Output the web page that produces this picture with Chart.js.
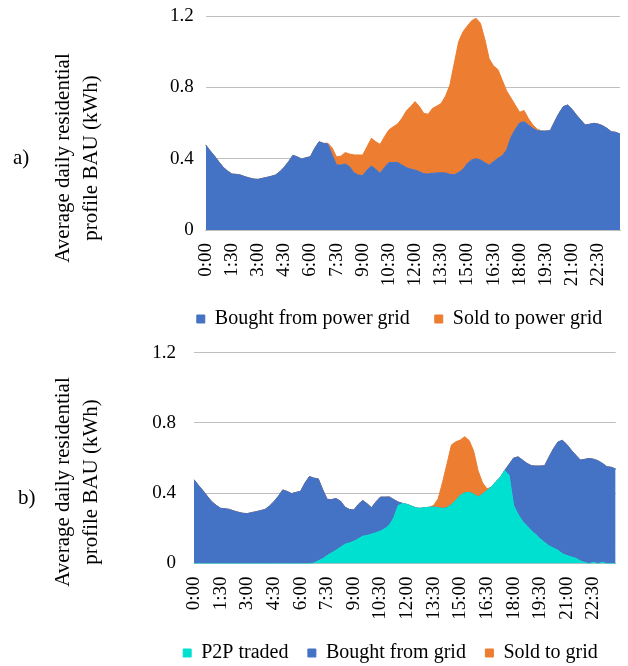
<!DOCTYPE html>
<html>
<head>
<meta charset="utf-8">
<script src="https://cdn.jsdelivr.net/npm/chart.js@4.4.1/dist/chart.umd.min.js"></script>
<style>
html,body{margin:0;padding:0;background:#fff;overflow:hidden;}
#wrap{position:relative;width:628px;height:666px;overflow:hidden;font-family:'Liberation Serif','Times New Roman',serif;color:#000;}
canvas{position:absolute;left:0;}
#cA{top:0;}
#cB{top:335px;}
.ytitle{position:absolute;width:280px;height:56px;transform:rotate(-90deg);text-align:center;font-size:21px;line-height:28px;white-space:nowrap;}
.tag{position:absolute;font-size:21px;line-height:24px;}
</style>
</head>
<body>
<div id="wrap">
  <canvas id="cA" width="628" height="347"></canvas>
  <canvas id="cB" width="628" height="341"></canvas>
  <div class="ytitle" style="left:-64px;top:130px;">Average daily residential<br>profile BAU (kWh)</div>
  <div class="ytitle" style="left:-64px;top:454px;">Average daily residential<br>profile BAU (kWh)</div>
  <div class="tag" style="left:13px;top:145px;">a)</div>
  <div class="tag" style="left:18px;top:485px;">b)</div>
</div>
<script>
const timeLabels = ['0:00','0:15','0:30','0:45','1:00','1:15','1:30','1:45','2:00','2:15','2:30','2:45',
'3:00','3:15','3:30','3:45','4:00','4:15','4:30','4:45','5:00','5:15','5:30','5:45',
'6:00','6:15','6:30','6:45','7:00','7:15','7:30','7:45','8:00','8:15','8:30','8:45',
'9:00','9:15','9:30','9:45','10:00','10:15','10:30','10:45','11:00','11:15','11:30','11:45',
'12:00','12:15','12:30','12:45','13:00','13:15','13:30','13:45','14:00','14:15','14:30','14:45',
'15:00','15:15','15:30','15:45','16:00','16:15','16:30','16:45','17:00','17:15','17:30','17:45',
'18:00','18:15','18:30','18:45','19:00','19:15','19:30','19:45','20:00','20:15','20:30','20:45',
'21:00','21:15','21:30','21:45','22:00','22:15','22:30','22:45','23:00','23:15','23:30','23:45'];
const shownTicks = ['0:00','1:30','3:00','4:30','6:00','7:30','9:00','10:30','12:00','13:30','15:00','16:30','18:00','19:30','21:00','22:30'];
const yTicks = [0, 0.4, 0.8, 1.2];

// Panel a) BAU
const boughtA = [0.477,0.445,0.415,0.383,0.352,0.331,0.314,0.312,0.308,0.299,
0.292,0.286,0.284,0.290,0.295,0.301,0.308,0.327,0.352,0.383,
0.419,0.410,0.398,0.405,0.411,0.458,0.495,0.486,0.482,0.420,
0.365,0.364,0.370,0.355,0.321,0.308,0.305,0.336,0.359,0.340,
0.318,0.351,0.378,0.378,0.379,0.364,0.350,0.342,0.336,0.327,
0.316,0.314,0.318,0.320,0.321,0.320,0.312,0.310,0.323,0.340,
0.374,0.393,0.400,0.393,0.378,0.364,0.383,0.402,0.417,0.449,
0.520,0.565,0.600,0.607,0.589,0.570,0.557,0.555,0.555,0.557,
0.607,0.654,0.692,0.701,0.677,0.645,0.617,0.589,0.593,0.598,
0.594,0.585,0.570,0.551,0.548,0.538];
const soldA = [0,0,0,0,0,0,0,0,0,0,
0,0,0,0,0,0,0,0,0,0,
0,0,0,0,0,0,0,0,0.005,0.04,
0.045,0.05,0.064,0.071,0.10,0.113,0.115,0.131,0.155,0.155,
0.162,0.172,0.183,0.201,0.215,0.262,0.317,0.35,0.384,0.365,
0.338,0.335,0.364,0.375,0.389,0.431,0.501,0.625,0.733,0.772,
0.77,0.781,0.787,0.766,0.692,0.596,0.537,0.498,0.423,0.331,
0.22,0.135,0.06,0.063,0.036,0.02,0.008,0,0,0,
0,0,0,0,0,0,0,0,0,0,
0,0,0,0,0,0];

// Panel b) P2P
const p2pB = [0,0,0,0,0,0,0,0,0,0,
0,0,0,0,0,0,0,0,0,0,
0,0,0,0,0,0,0,0.003,0.015,0.027,
0.045,0.06,0.075,0.092,0.11,0.117,0.126,0.14,0.155,0.16,
0.167,0.175,0.185,0.198,0.218,0.26,0.33,0.342,0.336,0.327,
0.316,0.314,0.318,0.320,0.321,0.318,0.313,0.318,0.335,0.36,
0.388,0.402,0.405,0.395,0.378,0.395,0.415,0.435,0.465,0.49,
0.53,0.50,0.33,0.28,0.24,0.215,0.185,0.165,0.14,0.12,
0.10,0.087,0.075,0.055,0.045,0.037,0.03,0.015,0.005,0,
0.006,0,0.006,0,0,0];
const boughtB = [0.477,0.445,0.415,0.383,0.352,0.331,0.314,0.312,0.308,0.299,
0.292,0.286,0.284,0.290,0.295,0.301,0.308,0.327,0.352,0.383,
0.419,0.410,0.398,0.405,0.411,0.458,0.495,0.483,0.467,0.393,
0.32,0.304,0.295,0.263,0.211,0.191,0.179,0.196,0.204,0.18,
0.151,0.176,0.193,0.18,0.161,0.104,0.02,0,0,0,
0,0,0,0,0,0,0,0,0,0,
0,0,0,0,0,0,0,0,0,0,
0,0.065,0.27,0.327,0.349,0.355,0.372,0.39,0.415,0.437,
0.507,0.567,0.617,0.646,0.632,0.608,0.587,0.574,0.588,0.598,
0.588,0.585,0.564,0.551,0.548,0.538];
const soldB = [0,0,0,0,0,0,0,0,0,0,
0,0,0,0,0,0,0,0,0,0,
0,0,0,0,0,0,0,0,0,0,
0,0,0,0,0,0,0,0,0,0,
0,0,0,0,0,0,0,0,0,0,
0,0,0,0,0.01,0.05,0.15,0.25,0.34,0.333,
0.315,0.32,0.295,0.245,0.15,0.065,0.01,0,0,0,
0,0,0,0,0,0,0,0,0,0,
0,0,0,0,0,0,0,0,0,0,
0,0,0,0,0,0];

const BLUE = '#4472C4', ORANGE = '#ED7D31', TEAL = '#00E0D0', GRID = '#BFBFBF';
const FONT = "'Liberation Serif', 'Times New Roman', serif";
Chart.defaults.font.family = FONT;
Chart.defaults.color = '#000';

// Places the legend block (centre and vertical position) like the reference.
const legendShift = {
  id: 'legendShift',
  afterLayout(chart, args, opts) {
    const lg = chart.legend;
    if (!lg || !opts || opts.left == null) return;
    const h = lg.bottom - lg.top;
    lg.left = opts.left; lg.right = opts.right;
    lg.top = opts.top; lg.bottom = opts.top + h;
  }
};

function area(label, data, color, fill) {
  return { label, data, backgroundColor: color, borderColor: color, borderWidth: 1,
           fill, pointRadius: 0, pointHoverRadius: 0, tension: 0 };
}

function makeChart(id, datasets, p) {
  return new Chart(document.getElementById(id), {
    type: 'line',
    data: { labels: timeLabels, datasets },
    plugins: [legendShift],
    options: {
      responsive: false, animation: false,
      layout: { padding: { left: 0, right: p.right, top: p.top, bottom: 0 } },
      plugins: {
        tooltip: { enabled: false },
        legendShift: { left: p.legLeft, right: p.legRight, top: p.legTop },
        legend: {
          position: 'bottom',
          labels: { boxWidth: 8, boxHeight: 8, padding: p.legPad, font: { size: 20, family: FONT }, color: '#000' }
        }
      },
      scales: {
        x: {
          type: 'category', offset: false,
          grid: { display: false, drawTicks: false },
          border: { display: true, color: GRID, width: 1 },
          ticks: {
            autoSkip: false, minRotation: 90, maxRotation: 90, padding: 13,
            font: { size: 19, family: FONT }, color: '#000',
            callback: function (v) { const l = this.getLabelForValue(v); return shownTicks.includes(l) ? l : ''; }
          },
          afterFit: s => { s.height = p.xh; s.paddingLeft = 0; s.paddingRight = 0; }
        },
        y: {
          stacked: true, min: 0, max: 1.2,
          afterBuildTicks: s => { s.ticks = yTicks.map(v => ({ value: v })); },
          grid: { color: GRID, lineWidth: 1, drawTicks: false },
          border: { display: false },
          ticks: { padding: p.tpad, font: { size: 19, family: FONT }, color: '#000',
                   callback: v => String(v) },
          afterFit: s => { s.width = p.yw; s.paddingTop = 0; s.paddingBottom = 0; }
        }
      }
    }
  });
}

makeChart('cA', [
  area('Bought from power grid', boughtA, BLUE, 'origin'),
  area('Sold to power grid', soldA, ORANGE, '-1')
], { right: 8, top: 16, yw: 205.7, xh: 62, tpad: 12, legPad: 25, legLeft: 139, legRight: 660, legTop: 284 });

makeChart('cB', [
  area('P2P traded', p2pB, TEAL, 'origin'),
  area('Bought from grid', boughtB, BLUE, '-1'),
  area('Sold to grid', soldB, ORANGE, '-1')
], { right: 12.3, top: 17.7, yw: 194, xh: 63, tpad: 18, legPad: 19.5, legLeft: 121, legRight: 660, legTop: 288.5 });
</script>
</body>
</html>
